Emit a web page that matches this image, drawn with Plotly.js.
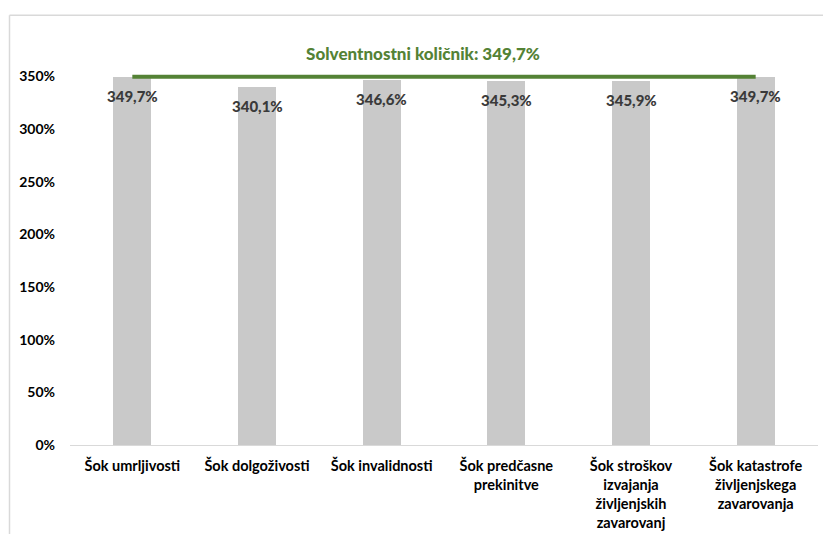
<!DOCTYPE html>
<html>
<head>
<meta charset="utf-8">
<script src="https://cdn.plot.ly/plotly-3.0.1.min.js"></script>
<style>
html,body{margin:0;padding:0;background:#fff;}
#chart{width:823px;height:534px;}
</style>
</head>
<body>
<div id="chart"></div>
<script>
const categories = [
  "Šok umrljivosti",
  "Šok dolgoživosti",
  "Šok invalidnosti",
  "Šok predčasne<br>prekinitve",
  "Šok stroškov<br>izvajanja<br>življenjskih<br>zavarovanj",
  "Šok katastrofe<br>življenjskega<br>zavarovanja"
];
const shockValues = [349.7, 340.1, 346.6, 345.3, 345.9, 349.7];
const solvencyRatio = 349.7;
const titleText = "Solventnostni količnik: 349,7%";

const FONT = "Lato, 'Open Sans', sans-serif";
const fmt = v => v.toFixed(1).replace('.', ',') + '%';

const bars = {
  type: 'bar',
  x: categories,
  y: shockValues,
  marker: {color: '#c9c9c9'},
  width: 0.305,
  hoverinfo: 'none',
  showlegend: false
};
const ratioLine = {
  type: 'scatter',
  mode: 'lines',
  x: categories,
  y: categories.map(() => solvencyRatio),
  line: {color: '#548235', width: 4},
  hoverinfo: 'none',
  showlegend: false
};

const annotations = categories.map((c, i) => ({
  x: c, y: shockValues[i], xref: 'x', yref: 'y',
  text: fmt(shockValues[i]), showarrow: false, yshift: -19,
  font: {family: FONT, size: 15, color: '#3a3a3a', weight: 900}
}));

const W = 823, H = 534, L = 70, R = 5, B = 89;
const pxPerUnit = (445 - 76.5) / 350;
const YMAX = 356;
const T = 76.5 - (YMAX - 350) * pxPerUnit;
const pw = W - L - R, ph = H - T - B;
const px = v => (v - L) / pw;
const py = v => (H - B - v) / ph;

const layout = {
  width: W, height: H,
  margin: {l: L, r: R, t: T, b: B, pad: 0},
  paper_bgcolor: '#fff', plot_bgcolor: '#fff',
  font: {family: FONT, size: 14, color: '#000'},
  title: {
    text: titleText,
    font: {family: FONT, size: 17, color: '#548235', weight: 900},
    xref: 'container', yref: 'container',
    x: 423 / W, xanchor: 'center',
    y: 1 - 54 / H, yanchor: 'middle'
  },
  xaxis: {
    type: 'category',
    showgrid: false, zeroline: false,
    showline: true, linecolor: '#d9d9d9', linewidth: 1,
    ticks: '', ticklen: 0,
    tickfont: {family: FONT, size: 14.5, color: '#000', weight: 700},
    ticklabelstandoff: 8,
    tickangle: 0,
    fixedrange: true
  },
  yaxis: {
    range: [0, YMAX],
    tickvals: [0, 50, 100, 150, 200, 250, 300, 350],
    ticktext: ['0%', '50%', '100%', '150%', '200%', '250%', '300%', '350%'],
    showgrid: false, zeroline: false, showline: false,
    ticks: '',
    tickfont: {family: FONT, size: 14, color: '#000', weight: 700},
    ticklabelstandoff: 14,
    fixedrange: true
  },
  bargap: 0,
  annotations: annotations,
  shapes: [
    {type: 'line', xref: 'paper', yref: 'paper', x0: px(9.5), x1: px(9.5), y0: py(15.5), y1: py(540),
     line: {color: '#d9d9d9', width: 1.5}},
    {type: 'line', xref: 'paper', yref: 'paper', x0: px(9.5), x1: px(830), y0: py(15.5), y1: py(15.5),
     line: {color: '#d9d9d9', width: 1.5}}
  ]
};

Plotly.newPlot('chart', [bars, ratioLine], layout, {displayModeBar: false, staticPlot: true});
</script>
</body>
</html>
